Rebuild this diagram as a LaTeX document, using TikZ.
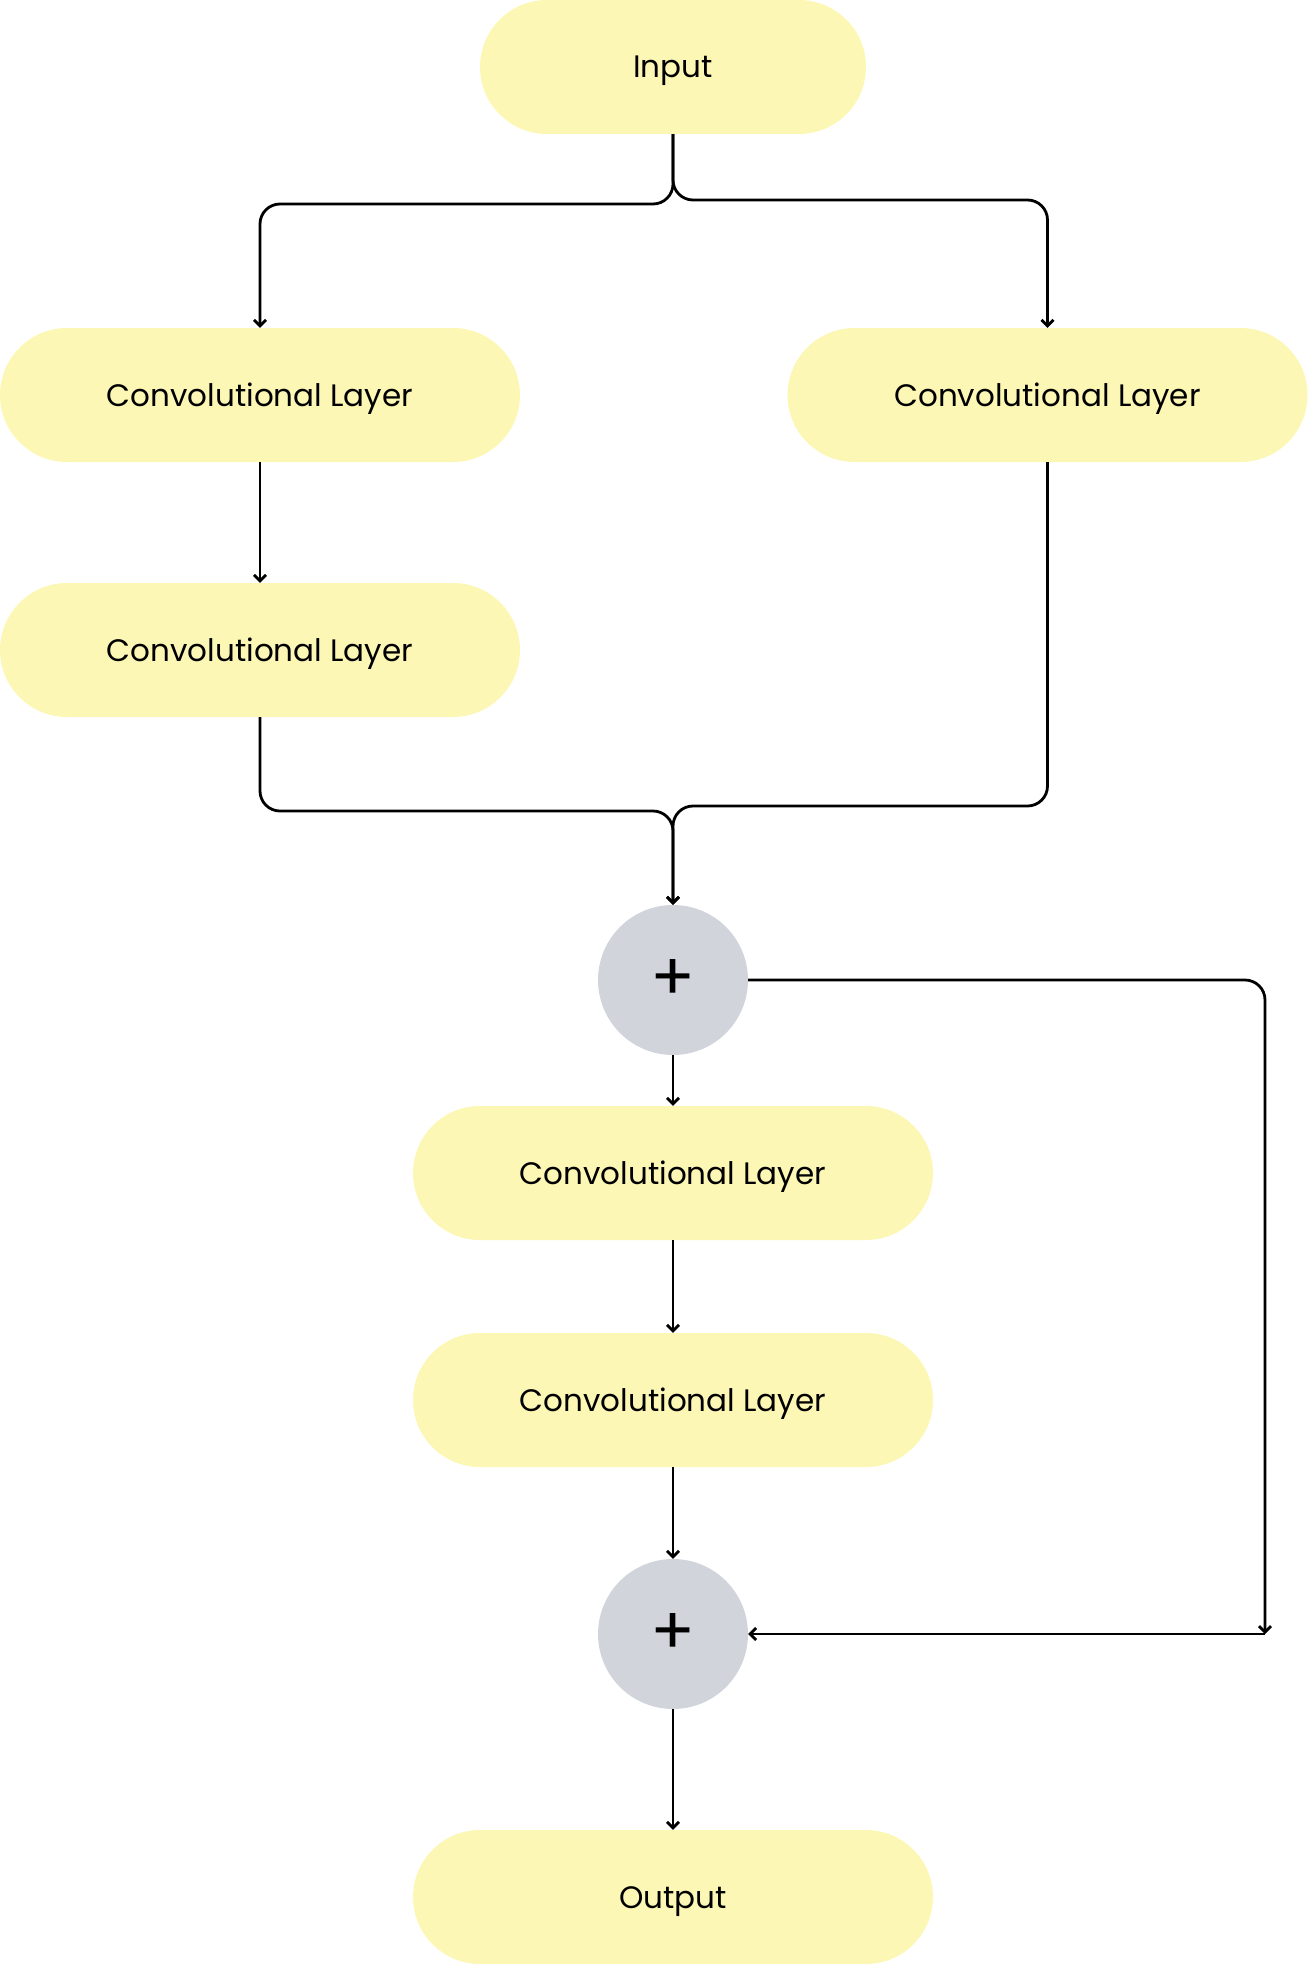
\documentclass[tikz,border=0pt]{standalone}
\usepackage{fontspec}
\setmainfont{Poppins}
\usetikzlibrary{arrows.meta}
\definecolor{padyellow}{HTML}{FDF7B5}
\definecolor{sumgray}{HTML}{D1D5DB}
\begin{document}
\begin{tikzpicture}[x=1pt,y=-1pt,
  layerbox/.style={rectangle, rounded corners=67pt, fill=padyellow, minimum width=520pt, minimum height=134pt, inner sep=0pt, font=\fontsize{31}{37}\selectfont, text depth=0pt, text height=22pt},
  sumnode/.style={circle, fill=sumgray, minimum size=150pt, inner sep=0pt, font=\fontsize{66}{66}\selectfont},
  conn/.style={draw=black, line width=2.8pt, -{Straight Barb[length=6pt,width=12pt]}}]
\useasboundingbox (0,0) rectangle (1308,1964);
\node[layerbox, minimum width=386pt] (in) at (673,67) {Input};
\node[layerbox] (L1) at (260,395) {Convolutional Layer};
\node[layerbox] (R) at (1047.5,395) {Convolutional Layer};
\node[layerbox] (L2) at (260,650) {Convolutional Layer};
\node[sumnode] (P1) at (673,980) {+};
\node[layerbox] (C3) at (673,1173) {Convolutional Layer};
\node[layerbox] (C4) at (673,1400) {Convolutional Layer};
\node[sumnode] (P2) at (673,1634) {+};
\node[layerbox] (out) at (673,1897) {Output};
\coordinate (splitL) at (673,204);
\coordinate (splitR) at (673,200);
\coordinate (mergeL) at (673,811);
\coordinate (mergeR) at (673,806);
\coordinate (loop) at (1265,1634);
\draw[conn, rounded corners=20pt] (in.south) -- (splitL) -| (L1.north);
\draw[conn, rounded corners=20pt] (in.south) -- (splitR) -| (R.north);
\draw[conn] (L1) -- (L2);
\draw[conn, rounded corners=20pt] (L2.south) |- (mergeL) -- (P1.north);
\draw[conn, rounded corners=20pt] (R.south) |- (mergeR) -- (P1.north);
\draw[conn] (P1) -- (C3);
\draw[conn] (C3) -- (C4);
\draw[conn] (C4) -- (P2);
\draw[conn] (P2) -- (out);
\draw[conn, rounded corners=20pt] (P1.east) -| (loop);
\draw[conn] (loop) -- (P2.east);
\end{tikzpicture}
\end{document}
